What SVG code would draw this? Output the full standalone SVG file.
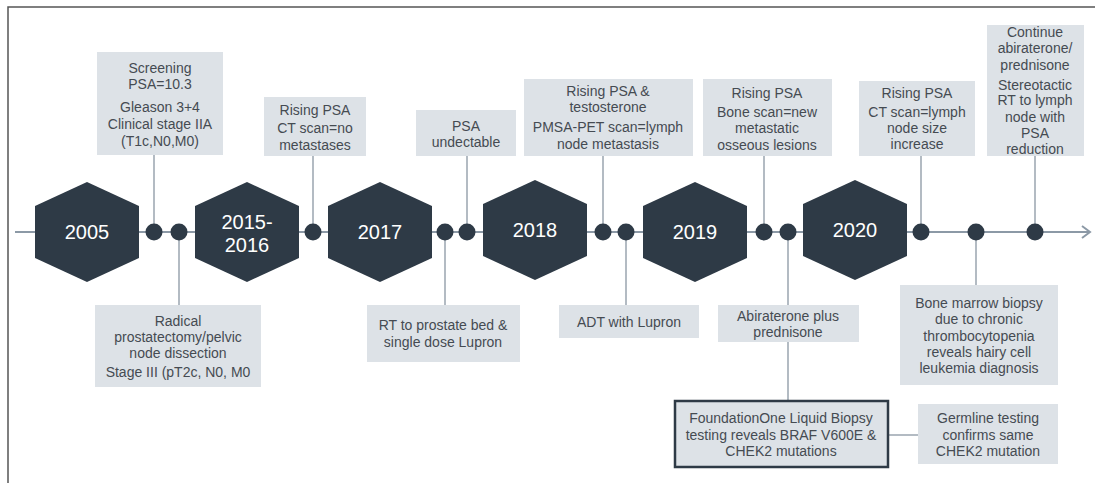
<svg xmlns="http://www.w3.org/2000/svg" width="1095" height="483" viewBox="0 0 1095 483">
<style>
.box{fill:#dde2e7}
.hex{fill:#2e3a46}
.dot{fill:#2e3a46}
.yr{font-family:"Liberation Sans",Arial,sans-serif;font-size:20px;fill:#ffffff;text-anchor:middle}
.t{font-family:"Liberation Sans",Arial,sans-serif;font-size:14px;fill:#454b52;text-anchor:middle}
.c{stroke:#9aa5af;stroke-width:1.5;fill:none}
</style>
<defs>
<polygon id="hx" points="0,-50 52,-26 52,26 0,50 -52,26 -52,-26"/>
<marker id="arr" markerWidth="14" markerHeight="14" refX="10" refY="7" orient="auto" markerUnits="userSpaceOnUse">
<path d="M2,1 L10,7 L2,13" fill="none" stroke="#8c99a6" stroke-width="2"/>
</marker>
</defs>
<rect width="1095" height="483" fill="#ffffff"/>
<path d="M8,483 V7 H1095" fill="none" stroke="#555" stroke-width="1.5"/>
<g id="connectors">
<line x1="15" y1="232" x2="1090" y2="232" stroke="#8c99a6" stroke-width="2" marker-end="url(#arr)"/>
<line class="c" x1="154" y1="155" x2="154" y2="232"/>
<line class="c" x1="179" y1="232" x2="179" y2="305"/>
<line class="c" x1="313" y1="156" x2="313" y2="232"/>
<line class="c" x1="445" y1="232" x2="445" y2="305"/>
<line class="c" x1="467" y1="156" x2="467" y2="232"/>
<line class="c" x1="603" y1="156" x2="603" y2="232"/>
<line class="c" x1="626" y1="232" x2="626" y2="305"/>
<line class="c" x1="764" y1="156" x2="764" y2="232"/>
<line class="c" x1="788" y1="232" x2="788" y2="400"/>
<line class="c" x1="921" y1="156" x2="921" y2="232"/>
<line class="c" x1="976" y1="232" x2="976" y2="285"/>
<line class="c" x1="1035" y1="156" x2="1035" y2="232"/>
<line class="c" x1="889" y1="435" x2="918" y2="435" stroke-width="2"/>
</g>
<g id="dots">
<circle class="dot" cx="154" cy="232" r="8.5"/>
<circle class="dot" cx="179" cy="232" r="8.5"/>
<circle class="dot" cx="313" cy="232" r="8.5"/>
<circle class="dot" cx="445" cy="232" r="8.5"/>
<circle class="dot" cx="467" cy="232" r="8.5"/>
<circle class="dot" cx="603" cy="232" r="8.5"/>
<circle class="dot" cx="626" cy="232" r="8.5"/>
<circle class="dot" cx="764" cy="232" r="8.5"/>
<circle class="dot" cx="788" cy="232" r="8.5"/>
<circle class="dot" cx="921" cy="232" r="8.5"/>
<circle class="dot" cx="976" cy="232" r="8.5"/>
<circle class="dot" cx="1035" cy="232" r="8.5"/>
</g>
<g id="y2005"><use href="#hx" class="hex" x="87" y="232"/><text class="yr" x="87" y="239">2005</text></g>
<g id="y2015"><use href="#hx" class="hex" x="247" y="232"/><text class="yr" x="247" y="229">2015-</text><text class="yr" x="247" y="252">2016</text></g>
<g id="y2017"><use href="#hx" class="hex" x="380" y="232"/><text class="yr" x="380" y="239">2017</text></g>
<g id="y2018"><use href="#hx" class="hex" x="535" y="230"/><text class="yr" x="535" y="237">2018</text></g>
<g id="y2019"><use href="#hx" class="hex" x="695" y="232"/><text class="yr" x="695" y="239">2019</text></g>
<g id="y2020"><use href="#hx" class="hex" x="855" y="230"/><text class="yr" x="855" y="237">2020</text></g>
<g id="b-screening"><rect class="box" x="97" y="52" width="126" height="103"/>
<text class="t" x="160" y="73">Screening</text><text class="t" x="160" y="89">PSA=10.3</text><text class="t" x="160" y="112">Gleason 3+4</text><text class="t" x="160" y="129">Clinical stage IIA</text><text class="t" x="160" y="146">(T1c,N0,M0)</text></g>
<g id="b-rising1"><rect class="box" x="264" y="97" width="102" height="59"/>
<text class="t" x="315" y="115">Rising PSA</text><text class="t" x="315" y="133">CT scan=no</text><text class="t" x="315" y="150">metastases</text></g>
<g id="b-undect"><rect class="box" x="416" y="110" width="100" height="46"/>
<text class="t" x="466" y="131">PSA</text><text class="t" x="466" y="147">undectable</text></g>
<g id="b-rising2"><rect class="box" x="524" y="79" width="169" height="77"/>
<text class="t" x="608" y="96">Rising PSA &amp;</text><text class="t" x="608" y="112">testosterone</text><text class="t" x="608" y="132">PMSA-PET scan=lymph</text><text class="t" x="608" y="149">node metastasis</text></g>
<g id="b-rising3"><rect class="box" x="703" y="79" width="129" height="77"/>
<text class="t" x="767" y="98">Rising PSA</text><text class="t" x="767" y="117">Bone scan=new</text><text class="t" x="767" y="133">metastatic</text><text class="t" x="767" y="150">osseous lesions</text></g>
<g id="b-rising4"><rect class="box" x="859" y="81" width="116" height="75"/>
<text class="t" x="917" y="98">Rising PSA</text><text class="t" x="917" y="117">CT scan=lymph</text><text class="t" x="917" y="133">node size</text><text class="t" x="917" y="149">increase</text></g>
<g id="b-continue"><rect class="box" x="987" y="25" width="97" height="131"/>
<text class="t" x="1035" y="37">Continue</text><text class="t" x="1035" y="53">abiraterone/</text><text class="t" x="1035" y="70">prednisone</text><text class="t" x="1035" y="90">Stereotactic</text><text class="t" x="1035" y="105">RT to lymph</text><text class="t" x="1035" y="122">node with</text><text class="t" x="1035" y="138">PSA</text><text class="t" x="1035" y="154">reduction</text></g>
<g id="b-radical"><rect class="box" x="95" y="305" width="166" height="82"/>
<text class="t" x="178" y="326">Radical</text><text class="t" x="178" y="342">prostatectomy/pelvic</text><text class="t" x="178" y="358">node dissection</text><text class="t" x="178" y="377">Stage III (pT2c, N0, M0</text></g>
<g id="b-rt"><rect class="box" x="367" y="305" width="153" height="57"/>
<text class="t" x="443" y="330">RT to prostate bed &amp;</text><text class="t" x="443" y="347">single dose Lupron</text></g>
<g id="b-adt"><rect class="box" x="559" y="305" width="140" height="33"/>
<text class="t" x="629" y="327">ADT with Lupron</text></g>
<g id="b-abir"><rect class="box" x="718" y="305" width="141" height="37"/>
<text class="t" x="788" y="321">Abiraterone plus</text><text class="t" x="788" y="337">prednisone</text></g>
<g id="b-marrow"><rect class="box" x="900" y="285" width="158" height="100"/>
<text class="t" x="979" y="308">Bone marrow biopsy</text><text class="t" x="979" y="324">due to chronic</text><text class="t" x="979" y="341">thrombocytopenia</text><text class="t" x="979" y="357">reveals hairy cell</text><text class="t" x="979" y="373">leukemia diagnosis</text></g>
<g id="b-foundation"><rect class="box" x="675" y="401" width="213" height="66" stroke="#2e3a46" stroke-width="2.5"/>
<text class="t" x="781" y="423">FoundationOne Liquid Biopsy</text><text class="t" x="781" y="440">testing reveals BRAF V600E &amp;</text><text class="t" x="781" y="456">CHEK2 mutations</text></g>
<g id="b-germline"><rect class="box" x="918" y="404" width="140" height="60"/>
<text class="t" x="988" y="423">Germline testing</text><text class="t" x="988" y="440">confirms same</text><text class="t" x="988" y="456">CHEK2 mutation</text></g>
</svg>
